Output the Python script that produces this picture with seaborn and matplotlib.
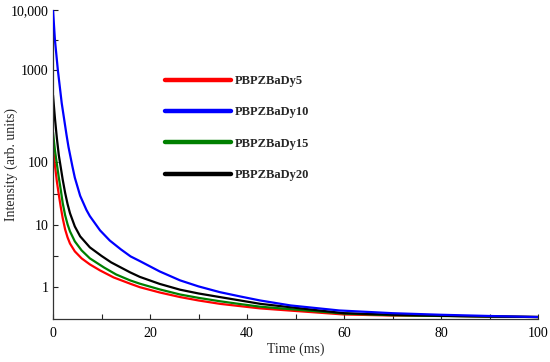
import numpy as np
import pandas as pd
import matplotlib
matplotlib.use("Agg")
import matplotlib.pyplot as plt
import seaborn as sns

# decay curves (time in ms, intensity in arb. units)
t_dy5 = [0, 0.4, 0.8, 1.2, 1.6, 2.0, 2.5, 3.0, 3.5, 4.5, 5.9, 7.6, 9.7, 12.5, 15.9,
         17.9, 22, 26.2, 30, 34.4, 38.6, 42.7, 50, 60, 70, 80, 90, 100]
i_dy5 = [142, 89.5, 49.4, 30.5, 19.5, 13.0, 8.6, 6.4, 5.1, 3.81, 2.94, 2.35, 1.88, 1.45, 1.15,
         1.01, 0.83, 0.70, 0.617, 0.545, 0.50, 0.46, 0.418, 0.367, 0.353, 0.35, 0.34, 0.334]

t_dy10 = [0, 0.4, 0.7, 1.0, 1.8, 2.8, 3.2, 4.0, 4.5, 5.6, 6.9, 7.6, 9.7, 11.7, 14, 16,
          17.9, 22, 26.2, 30, 34.4, 38.6, 42.7, 49, 59, 70, 80, 90, 100]
i_dy10 = [10000, 3160, 1780, 1000, 437, 196, 146, 86, 57, 29.4, 17.5, 14.0, 8.3, 5.7, 4.1, 3.16,
          2.66, 1.81, 1.30, 1.04, 0.84, 0.716, 0.617, 0.513, 0.426, 0.385, 0.363, 0.347, 0.334]

t_dy15 = [0, 0.4, 0.8, 1.2, 1.6, 2.0, 2.5, 3.0, 3.5, 4.5, 5.9, 7.6, 10.5, 13, 15.9,
          17.9, 22, 26.2, 30, 34.4, 38.6, 42.7, 50, 60, 70, 80, 90, 100]
i_dy15 = [212, 135, 93, 57, 36.7, 22.6, 14.5, 10.4, 8.0, 5.52, 3.95, 2.94, 2.1, 1.62, 1.30,
          1.15, 0.93, 0.77, 0.68, 0.60, 0.54, 0.49, 0.44, 0.38, 0.357, 0.347, 0.34, 0.334]

t_dy20 = [0, 0.4, 0.8, 1.2, 1.6, 2.0, 2.5, 3.0, 3.5, 4.5, 5.6, 7.6, 10, 12, 15.9,
          17.9, 22, 26.2, 30, 34.4, 38.6, 42.7, 50, 60, 70, 80, 90, 100]
i_dy20 = [535, 300, 182, 119, 83, 53, 32.8, 21.8, 15.6, 9.6, 6.65, 4.42, 3.22, 2.53, 1.75,
          1.48, 1.14, 0.92, 0.80, 0.70, 0.617, 0.545, 0.47, 0.385, 0.363, 0.35, 0.34, 0.334]

names = ["PBPZBaDy5", "PBPZBaDy10", "PBPZBaDy15", "PBPZBaDy20"]
colors = ["#ff0000", "#0000ff", "#008000", "#000000"]

y_ticks = [1, 10, 100, 1000, 10000]
y_tick_labels = ["1", "10", "100", "1000", "10,000"]
x_ticks = [0, 20, 40, 60, 80, 100]

frames = []
for name, t, v in zip(names, [t_dy5, t_dy10, t_dy15, t_dy20],
                      [i_dy5, i_dy10, i_dy15, i_dy20]):
    frames.append(pd.DataFrame({"Time": t, "Intensity": v, "Sample": name}))
df = pd.concat(frames, ignore_index=True)

# the original axis is log-like but the decades are not evenly spaced
dec_log = [-2, 0, 1, 2, 3, 4, 5]
dec_pos = [-124, 0, 62, 125, 217, 277, 337]

def fwd(v):
    v = np.clip(np.asarray(v, dtype=float), 1e-6, None)
    return np.interp(np.log10(v), dec_log, dec_pos)

def inv(p):
    return 10 ** np.interp(np.asarray(p, dtype=float), dec_pos, dec_log)

sns.set_style("ticks")
plt.rcParams["font.family"] = ["Liberation Serif", "DejaVu Serif"]

fig = plt.figure(figsize=(5.5, 3.62), dpi=100)
ax = fig.add_axes([53 / 550, 1 - 318.5 / 362, 485 / 550, 308.5 / 362])

sns.lineplot(data=df, x="Time", y="Intensity", hue="Sample", hue_order=names,
             palette=dict(zip(names, colors)), estimator=None, sort=True,
             linewidth=1.6, ax=ax)
for ln in ax.lines[:4]:
    ln.set_zorder(2)
    ln.set_solid_joinstyle("round")
ax.lines[1].set_zorder(3)

ax.set_yscale("function", functions=(fwd, inv))
ax.set_ylim(10 ** -0.5, 10000)
ax.set_xlim(0, 100)
ax.set_yticks(y_ticks)
ax.set_yticklabels(y_tick_labels)
ax.set_yticks([10 ** 0.5, 10 ** 1.5, 10 ** 3.5], minor=True)
ax.set_xticks(x_ticks)
ax.set_xticks([10, 30, 50, 70, 90], minor=True)

ax.tick_params(which="both", direction="in", length=3.5, width=0.8,
               labelsize=10, colors="#222222", labelcolor="black")
ax.tick_params(axis="y", pad=3)
ax.tick_params(axis="x", pad=6)
for s in ["left", "bottom"]:
    ax.spines[s].set_linewidth(0.9)
    ax.spines[s].set_color("#333333")
sns.despine(ax=ax)

ax.set_xlabel("Time (ms)", fontsize=10, labelpad=2)
ax.set_ylabel("Intensity (arb. units)", fontsize=10)
ax.yaxis.set_label_coords((18 - 53) / 485, 0.5)

sns.move_legend(ax, "upper left", bbox_to_anchor=(165 / 550, 1 - 75 / 362),
                bbox_transform=fig.transFigure, frameon=False, title=None,
                borderpad=0, borderaxespad=0, handlelength=5.3,
                handletextpad=0.25, labelspacing=1.55,
                prop={"weight": "bold", "size": 9})
for h in ax.get_legend().legend_handles:
    h.set_linewidth(3.2)

fig.savefig("out.png", dpi=100)
